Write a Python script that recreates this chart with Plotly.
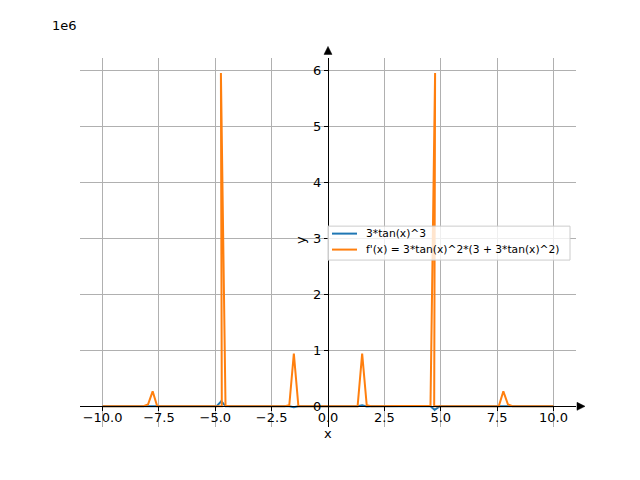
import plotly.graph_objects as go

# sample points (x) and values
x_vals = [-10.0, -8.1818, -7.9798, -7.7778, -7.5758, -5.1515, -4.9495, -4.71, -4.75, -4.5455, -4.3434,
          -1.9192, -1.7172, -1.5152, -1.3131, -1.1111, 1.1111, 1.3131, 1.5152, 1.7172, 1.9192,
          4.3434, 4.5455, 4.75, 4.71, 4.9495, 5.1515, 7.5758, 7.7778, 7.9798, 8.1818, 10.0]
f_vals = [-0.8, 76, 1483, -6770, -129, 29, 210, 100000, 100000, -626, -51,
          62, 935, -17400, -171, -24, 24, 171, 17400, -935, -62,
          51, 626, -69200, -69200, -210, -29, 129, 6770, -1483, -76, 0.8]
df_vals = [5.4, 750, 35700, 268000, 1470, 226, 2750, 3000, 5950000, 11470, 460,
           582, 19450, 942000, 2105, 183, 183, 2105, 942000, 19450, 582,
           460, 11470, 5950000, 3000, 2750, 226, 1470, 268000, 35700, 750, 5.4]

x_ticks = [-10, -7.5, -5, -2.5, 0, 2.5, 5, 7.5, 10]
y_ticks = [0, 1e6, 2e6, 3e6, 4e6, 5e6, 6e6]
y_tick_text = ["0", "1", "2", "3", "4", "5", "6"]
names = ["3*tan(x)^3", "f'(x) = 3*tan(x)^2*(3 + 3*tan(x)^2)"]
colors = ["#1f77b4", "#ff7f0e"]

x_range = [-11, 11]
y_range = [-0.369e6, 6.22e6]

# plot area in screen pixels (page has an 8px body margin)
OFF = 8
L, R, T, B = 80, 576, 57.6, 427.2
def px(xp):
    return (xp - L) / (R - L)
def py(yp):
    return (B - yp) / (B - T)

fig = go.Figure()
for yv, nm, c in zip([f_vals, df_vals], names, colors):
    fig.add_trace(go.Scatter(x=x_vals, y=yv, mode="lines", name=nm, showlegend=False,
                             line=dict(color=c, width=2)))

ypos = (0 - y_range[0]) / (y_range[1] - y_range[0])
xpos = (0 - x_range[0]) / (x_range[1] - x_range[0])

# spine positions in screen px
sx = L + xpos * (R - L)
sy = B - ypos * (B - T)

def tri(pts):
    p = "M " + " L ".join(f"{px(a):.5f},{py(b):.5f}" for a, b in pts) + " Z"
    return dict(type="path", xref="paper", yref="paper", path=p,
                fillcolor="black", line=dict(color="black", width=0.5), layer="above")

shapes = [
    tri([(577, sy - 4), (585, sy), (577, sy + 4)]),
    tri([(sx - 4, 54), (sx, 46), (sx + 4, 54)]),
    dict(type="rect", xref="paper", yref="paper", x0=px(328), x1=px(570), y0=py(260), y1=py(226),
         line=dict(color="#cccccc", width=1), fillcolor="rgba(255,255,255,0.8)", layer="above"),
]
annotations = [dict(text="1e6", xref="paper", yref="paper", x=px(79), y=py(35),
                    xanchor="right", yanchor="bottom", showarrow=False, font=dict(size=13)),
               dict(text="x", xref="paper", yref="paper", x=px(328), y=py(434),
                    xanchor="center", yanchor="middle", showarrow=False, font=dict(size=13)),
               dict(text="y", xref="paper", yref="paper", x=px(300), y=py(240), textangle=-90,
                    xanchor="center", yanchor="middle", showarrow=False, font=dict(size=13))]
for i, (nm, c) in enumerate(zip(names, colors)):
    yy = 233.5 + 16 * i
    shapes.append(dict(type="line", xref="paper", yref="paper", x0=px(332), x1=px(357),
                       y0=py(yy), y1=py(yy), line=dict(color=c, width=2), layer="above"))
    annotations.append(dict(text=nm, xref="paper", yref="paper", x=px(364), y=py(yy),
                            xanchor="left", yanchor="middle", showarrow=False,
                            font=dict(size=10.7)))

fig.update_layout(
    width=640, height=480,
    margin=dict(l=L - OFF, r=640 - R + OFF, t=T - OFF, b=480 - B + OFF, autoexpand=False),
    paper_bgcolor="white", plot_bgcolor="white",
    font=dict(family="DejaVu Sans", size=13, color="black"),
    showlegend=False,
    xaxis=dict(range=x_range, tickvals=x_ticks, tickformat=".1f",
               showgrid=True, gridcolor="#b0b0b0", gridwidth=1, zeroline=False,
               showline=True, linecolor="black", linewidth=1,
               ticks="outside", ticklen=4, tickcolor="black", ticklabelstandoff=-5,
               anchor="free", position=ypos, automargin=False),
    yaxis=dict(range=y_range, tickvals=y_ticks, ticktext=y_tick_text,
               showgrid=True, gridcolor="#b0b0b0", gridwidth=1, zeroline=False,
               showline=True, linecolor="black", linewidth=1,
               ticks="outside", ticklen=4, tickcolor="black",
               anchor="free", position=xpos, automargin=False),
    shapes=shapes,
    annotations=annotations,
)

fig.write_html("out.html")
